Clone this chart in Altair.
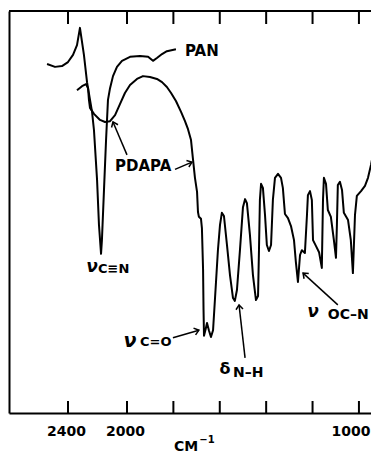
import altair as alt
import pandas as pd

# ---- spectrum data (wavenumber cm-1, transmittance %) ----
pan_wn = [2542, 2488, 2441, 2400, 2366, 2339, 2319, 2292, 2271, 2237, 2224, 2203,
          2190, 2176, 2170, 2156, 2142, 2129, 2115, 2095, 2068, 2034, 1987, 1944,
          1909, 1888, 1871, 1849, 1828, 1789]
pan_t = [86.8, 86.1, 86.3, 87.3, 89.1, 91.5, 95.8, 89.1, 82.3, 74.9, 70.4, 58.0,
         46.8, 39.6, 43.0, 55.5, 67.9, 77.9, 80.8, 83.8, 86.1, 87.6, 88.6, 88.8,
         88.6, 87.6, 88.3, 89.3, 90.0, 90.5]

pdapa_wn = [2339, 2305, 2278, 2264, 2258, 2251, 2224, 2183, 2149, 2115, 2081, 2047,
            2014, 1987, 1957, 1931, 1901, 1871, 1849, 1828, 1810, 1789, 1767, 1750,
            1737, 1724, 1716, 1707, 1698, 1694, 1690, 1681, 1677, 1672, 1670, 1668,
            1660, 1655, 1647, 1638, 1629, 1621, 1608, 1599, 1591, 1582, 1569, 1556,
            1543, 1535, 1526, 1513, 1500, 1491, 1483, 1470, 1457, 1444, 1435, 1431,
            1427, 1422, 1414, 1405, 1397, 1388, 1379, 1371, 1362, 1349, 1336, 1328,
            1319, 1306, 1293, 1280, 1272, 1263, 1254, 1246, 1233, 1224, 1220, 1211,
            1203, 1198, 1185, 1172, 1160, 1155, 1151, 1142, 1134, 1121, 1108, 1099,
            1095, 1091, 1082, 1073, 1065, 1047, 1035, 1026, 1017, 1009, 991, 974,
            961, 948, 940, 927]
pdapa_t = [80.3, 81.3, 81.8, 80.8, 77.9, 75.9, 74.4, 72.9, 72.4, 72.6, 74.1, 76.9,
           79.6, 81.6, 83.1, 83.8, 83.6, 83.1, 82.3, 81.1, 79.6, 77.6, 74.9, 72.6,
           70.6, 67.9, 63.4, 58.5, 55.0, 50.0, 48.8, 48.3, 46.0, 35.6, 25.6, 19.2,
           21.1, 22.4, 20.6, 18.9, 20.6, 28.1, 40.5, 46.8, 49.8, 49.0, 41.8, 34.3,
           28.6, 27.9, 30.6, 40.5, 51.2, 53.2, 52.2, 44.3, 34.3, 28.1, 29.1, 40.5,
           53.0, 57.0, 56.0, 49.3, 41.8, 40.3, 41.8, 53.0, 58.5, 59.5, 58.5, 56.0,
           49.5, 48.5, 46.5, 43.0, 37.6, 32.6, 39.3, 40.5, 39.8, 49.3, 54.2, 55.2,
           53.0, 43.0, 41.5, 40.0, 36.1, 53.0, 58.5, 57.0, 50.5, 48.8, 43.0, 38.6,
           46.8, 56.7, 57.5, 55.5, 49.8, 48.0, 43.0, 34.8, 49.3, 54.0, 55.2, 56.5,
           58.5, 61.7, 64.2, 65.4]

tick_wn = [2400, 2000, 1800, 1600, 1400, 1200, 1000]
label_wn = [2400, 2000, 1000]

# annotation arrows: tail -> tip (wavenumber, transmittance)
arrow_tail_wn = [2000, 1793, 1802, 1491, 1091]
arrow_tail_t = [64.2, 60.6, 18.7, 13.7, 26.9]
arrow_tip_wn = [2095, 1720, 1690, 1517, 1241]
arrow_tip_t = [72.4, 62.4, 20.6, 26.9, 34.8]
arrow_angle = [337, 70, 73, 354, 312]

# x-axis extent (the chart runs off the right edge of the page)
x_start, x_break, x_end = 2800, 2000, 948

W, H = 362, 402
FONT = "DejaVu Sans"

xscale = alt.Scale(domain=[x_start, x_break, x_end], range=[0, 118, W], nice=False, zero=False)
yscale = alt.Scale(domain=[0, 100], nice=False, zero=False)

series = pd.concat([
    pd.DataFrame({"wn": pan_wn, "t": pan_t, "s": "PAN", "i": range(len(pan_wn))}),
    pd.DataFrame({"wn": pdapa_wn, "t": pdapa_t, "s": "PDAPA", "i": range(len(pdapa_wn))}),
])

lines = alt.Chart(series).mark_line(color="black", strokeWidth=2, strokeJoin="round",
                                    clip=True).encode(
    x=alt.X("wn:Q", scale=xscale,
            axis=alt.Axis(values=label_wn, ticks=False, tickSize=0, grid=False, title=None,
                          domainColor="black", domainWidth=2, labelFont=FONT,
                          labelFontWeight="bold", labelFontSize=14, labelColor="black",
                          labelPadding=11, format="d", labelFlush=False,
                          labelAlign={"condition": {"test": "datum.value == 1000",
                                                    "value": "right"},
                                      "value": "center"},
                          labelOffset={"condition": {"test": "datum.value == 1000",
                                                     "value": 11},
                                       "value": -2})),
    y=alt.Y("t:Q", scale=yscale,
            axis=alt.Axis(domain=True, domainColor="black", domainWidth=2, ticks=False,
                          labels=False, grid=False, title=None)),
    detail="s:N",
    order="i:Q",
)

ticks_df = pd.DataFrame({"wn": tick_wn})
bottom_ticks = alt.Chart(ticks_df).mark_tick(
    color="black", orient="vertical", size=12, thickness=2, opacity=1
).encode(x=alt.X("wn:Q", scale=xscale), y=alt.value(H - 6))
top_ticks = alt.Chart(ticks_df).mark_tick(
    color="black", orient="vertical", size=13, thickness=2, opacity=1
).encode(x=alt.X("wn:Q", scale=xscale), y=alt.value(6.5))

border_df = pd.DataFrame({"a": [x_start], "b": [x_end], "t": [100]})
top_border = alt.Chart(border_df).mark_rule(color="black", strokeWidth=2).encode(
    x=alt.X("a:Q", scale=xscale), x2="b:Q", y=alt.Y("t:Q", scale=yscale))

arrows_df = pd.DataFrame({"x0": arrow_tail_wn, "t0": arrow_tail_t,
                          "x1": arrow_tip_wn, "t1": arrow_tip_t, "a": arrow_angle})
arrow_lines = alt.Chart(arrows_df).mark_rule(color="black", strokeWidth=1.5).encode(
    x=alt.X("x0:Q", scale=xscale), x2="x1:Q",
    y=alt.Y("t0:Q", scale=yscale), y2="t1:Q")
arrow_heads = alt.Chart(arrows_df).mark_point(
    shape="M-1,1.3L0,0L1,1.3", filled=False, color="black", strokeWidth=1.5, size=49, opacity=1
).encode(
    x=alt.X("x1:Q", scale=xscale), y=alt.Y("t1:Q", scale=yscale),
    angle=alt.Angle("a:Q", scale=None))


def label(text, wn, t, size, align="left", style="normal", weight="bold"):
    df = pd.DataFrame({"wn": [wn], "t": [t], "txt": [text]})
    return alt.Chart(df).mark_text(
        font=FONT, fontSize=size, fontWeight=weight, fontStyle=style, align=align,
        baseline="middle", color="black"
    ).encode(x=alt.X("wn:Q", scale=xscale), y=alt.Y("t:Q", scale=yscale), text="txt:N")


labels = [
    label("PAN", 1750, 90.0, 15),
    label("PDAPA", 2081, 61.4, 15),
    label("ν", 2237, 36.3, 17, "center", "italic"),
    label("C≡N", 2197, 35.8, 13),
    label("ν", 1987, 17.9, 19, "center", "italic"),
    label("C=O", 1944, 17.7, 13),
    label("δ", 1578, 10.9, 16, "center"),
    label("N–H", 1543, 9.95, 14),
    label("ν", 1198, 25.1, 17, "center", "italic"),
    label("OC–N", 1134, 24.4, 14),
]

cm = alt.Chart(border_df).mark_text(
    font=FONT, fontSize=14, fontWeight="bold", color="black", align="center", baseline="middle"
).encode(x=alt.value(177), y=alt.value(436), text=alt.value("CM"))
cm_sup = alt.Chart(border_df).mark_text(
    font=FONT, fontSize=10, fontWeight="bold", color="black", align="center", baseline="middle"
).encode(x=alt.value(198), y=alt.value(429), text=alt.value("−1"))

chart = alt.layer(
    lines, bottom_ticks, top_ticks, top_border, arrow_lines, arrow_heads, *labels, cm, cm_sup
).properties(
    width=W, height=H,
    autosize=alt.AutoSizeParams(type="none"),
    padding={"left": 1, "top": 3, "right": 0, "bottom": 40},
    background="white",
).configure_view(stroke=None)

chart.save("out.html", embed_options={"renderer": "svg", "actions": False})
